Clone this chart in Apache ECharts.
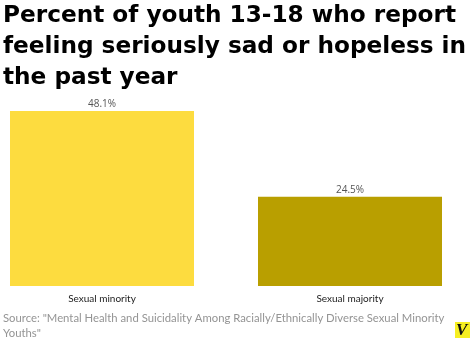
<!DOCTYPE html>
<html>
<head>
<meta charset="utf-8">
<script src="https://cdn.jsdelivr.net/npm/echarts@6/dist/echarts.min.js"></script>
<style>
  html, body { margin: 0; padding: 0; background: #fff; overflow: hidden; }
  /* canvas is widened and shifted left so the outer half-gaps of the bar bands fall off-page */
  #chart { position: absolute; left: -22px; top: 0; width: 496px; height: 340px; }
</style>
</head>
<body>
<div id="chart"></div>
<script>
// Share of youth aged 13-18 reporting persistent sadness/hopelessness
const categories = ['Sexual minority', 'Sexual majority'];
const percentValues = [48.1, 24.5];
const barColors = ['#FDDC3F', '#B99F00'];

const OFFSET = 22; // horizontal shift of the chart canvas

const chart = echarts.init(document.getElementById('chart'), null, { renderer: 'canvas' });

chart.setOption({
  backgroundColor: '#ffffff',
  animation: false,
  title: {
    text: 'Percent of youth 13-18 who report\nfeeling seriously sad or hopeless in\nthe past year',
    left: 3 + OFFSET,
    top: 0,
    padding: 0,
    textStyle: {
      fontFamily: 'DejaVu Sans',
      fontWeight: 'bold',
      fontSize: 23.2,
      lineHeight: 31,
      color: '#000'
    }
  },
  graphic: [
    {
      type: 'text',
      left: 3 + OFFSET,
      top: 311,
      style: {
        text: 'Source: "Mental Health and Suicidality Among Racially/Ethnically Diverse Sexual Minority\nYouths"',
        fontFamily: 'Lato',
        fontSize: 11.3,
        lineHeight: 15,
        fill: '#949494'
      }
    },
    {
      type: 'rect',
      left: 455 + OFFSET,
      top: 322,
      shape: { width: 15, height: 16 },
      style: { fill: '#F6EF22' }
    },
    {
      type: 'text',
      left: 456 + OFFSET,
      top: 322,
      style: {
        text: 'V',
        fontFamily: 'Liberation Serif',
        fontWeight: 'bold',
        fontStyle: 'italic',
        fontSize: 17,
        fill: '#111'
      }
    }
  ],
  grid: { left: 0, right: 0, top: 111, bottom: 54, containLabel: false },
  xAxis: {
    type: 'category',
    data: categories,
    axisLine: { show: false },
    axisTick: { show: false },
    axisLabel: {
      margin: 8,
      fontFamily: 'Lato',
      fontSize: 10,
      color: '#222'
    }
  },
  yAxis: {
    type: 'value',
    min: 0,
    max: 48.1,
    show: false
  },
  series: [{
    type: 'bar',
    barWidth: 184,
    data: percentValues.map((v, i) => ({ value: v, itemStyle: { color: barColors[i] } })),
    label: {
      show: true,
      position: 'top',
      distance: 2,
      formatter: p => p.value + '%',
      fontFamily: 'Open Sans',
      fontSize: 10,
      color: '#555'
    }
  }]
});
</script>
</body>
</html>
